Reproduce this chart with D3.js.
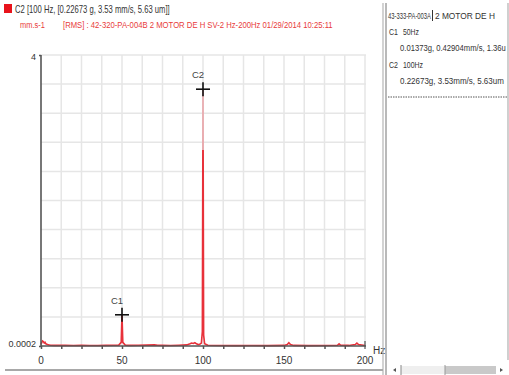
<!DOCTYPE html>
<html>
<head>
<meta charset="utf-8">
<script src="https://cdn.jsdelivr.net/npm/d3@7"></script>
<style>
  html, body { margin: 0; padding: 0; background: #fff; }
  svg { display: block; }
  text { font-family: "Liberation Sans Narrow", "Liberation Sans", Arial, sans-serif; }
</style>
</head>
<body>
<svg id="chart" width="509" height="375"></svg>
<script>
// Spectrum samples (Hz, mm/s RMS)
const freqs = [0, 0.5, 1, 1.5, 2, 2.5, 3, 4, 5, 6, 8, 10, 15, 20, 25, 30, 35, 40, 45, 48,
  49.5, 50, 50.5, 52, 55, 60, 65, 70, 72, 75, 80, 85, 90, 92, 93, 94, 95, 96, 97, 98,
  99, 99.6, 100, 100.4, 101, 103, 110, 120, 130, 140, 150, 152, 153, 154, 156, 165, 175,
  183, 184, 185, 190, 194, 195, 196, 200];
const amps = [0.02, 0.05, 0.07, 0.06, 0.04, 0.05, 0.03, 0.02, 0.015, 0.01, 0.008, 0.01, 0.008, 0.006, 0.01, 0.007, 0.006, 0.008, 0.01, 0.012,
  0.05, 0.429, 0.05, 0.012, 0.008, 0.01, 0.012, 0.015, 0.01, 0.008, 0.006, 0.01, 0.015, 0.03, 0.04, 0.035, 0.045, 0.03, 0.02, 0.025,
  0.04, 0.2, 3.53, 0.15, 0.03, 0.01, 0.006, 0.005, 0.006, 0.005, 0.008, 0.02, 0.045, 0.02, 0.008, 0.005, 0.006,
  0.01, 0.03, 0.01, 0.008, 0.02, 0.04, 0.02, 0.008];

// Cursors
const cursorNames = ["C1", "C2"];
const cursorFreqs = [50, 100];
const cursorAmps = [0.429, 3.53];

// Axis ticks and grid
const xTickLabels = [0, 50, 100, 150, 200];
const xGridFreqs = [12.5, 25, 37.5, 50, 62.5, 75, 87.5, 100, 112.5, 125, 137.5, 150, 162.5, 175, 187.5, 200];
const xMinorTicks = [0, 12.5, 25, 37.5, 50, 62.5, 75, 87.5, 100, 112.5, 125, 137.5, 150, 162.5, 175, 187.5];
const yGridValues = [0.4, 0.8, 1.2, 1.6, 2.0, 2.4, 2.8, 3.2, 3.6, 4.0];
const yTickLabels = ["0.0002", "4"];
const yTickValues = [0.0002, 4];

// Header and side panel texts
const headerLine = "C2 [100 Hz, [0.22673 g, 3.53 mm/s, 5.63 um]]";
const unitLabel = "mm.s-1";
const titleLine = "[RMS] : 42-320-PA-004B 2 MOTOR DE H SV-2 Hz-200Hz 01/29/2014 10:25:11";
const panelTitleA = "43-333-PA-003A";
const panelTitleB = "2 MOTOR DE H";
const panelRows = [
  ["C1", "50Hz", "0.01373g, 0.42904mm/s, 1.36u"],
  ["C2", "100Hz", "0.22673g, 3.53mm/s, 5.63um"]
];

const svg = d3.select("#chart");

const x = d3.scaleLinear().domain([0, 200]).range([41, 365]);
const y = d3.scaleLinear().domain([0, 4]).range([346, 55]);

// Condensed text: drawn at a font size, then scaled horizontally to a target width
function narrowText(g, str, px, py, size, width, color) {
  const t = g.append("text").attr("x", 0).attr("y", 0).attr("font-size", size).attr("fill", color).text(str);
  const natural = t.node().getComputedTextLength();
  const k = natural > 0 ? width / natural : 1;
  t.attr("transform", `translate(${px},${py}) scale(${k},1)`);
  return t;
}

// Header
svg.append("rect").attr("x", 4).attr("y", 4).attr("width", 8).attr("height", 9).attr("fill", "#e8131b");
narrowText(svg, headerLine, 15, 13, 10, 155, "#333");
narrowText(svg, unitLabel, 20, 28, 9, 25, "#e83a3a");
narrowText(svg, titleLine, 63, 28, 9.5, 270, "#e83a3a");

// Grid
const grid = svg.append("g").attr("stroke", "#e6e6e6").attr("stroke-width", 1.5);
grid.selectAll("line.v").data(xGridFreqs).join("line")
  .attr("x1", d => x(d)).attr("x2", d => x(d)).attr("y1", y(4)).attr("y2", y(0));
grid.selectAll("line.h").data(yGridValues).join("line")
  .attr("x1", x(0)).attr("x2", x(200) + 1).attr("y1", d => y(d)).attr("y2", d => y(d));

// Spectrum stroke: pale near the top of the tall peak, red below
const defs = svg.append("defs");
const grad = defs.append("linearGradient").attr("id", "specStroke")
  .attr("gradientUnits", "userSpaceOnUse")
  .attr("x1", 0).attr("x2", 0).attr("y1", y(4)).attr("y2", y(0));
const cut = (4 - 2.7) / 4;
grad.append("stop").attr("offset", 0).attr("stop-color", "#e9a8ac");
grad.append("stop").attr("offset", cut).attr("stop-color", "#e9a8ac");
grad.append("stop").attr("offset", cut).attr("stop-color", "#e8313a");
grad.append("stop").attr("offset", 1).attr("stop-color", "#e8313a");

const pts = freqs.map((f, i) => [f, amps[i]]);
svg.append("path").datum(pts)
  .attr("fill", "none")
  .attr("stroke", "url(#specStroke)")
  .attr("stroke-width", 1.6)
  .attr("d", d3.line().x(d => x(d[0])).y(d => y(d[1])));

// Axes
const xAxis = d3.axisBottom(x).tickValues(xMinorTicks).tickSize(3).tickFormat("");
const xg = svg.append("g").attr("transform", `translate(0,${y(0)})`).call(xAxis);
xg.select(".domain").attr("stroke", "#555").attr("stroke-width", 1.6).attr("d", `M${x(0)},0H${x(200) + 1}`);
xg.selectAll(".tick line").attr("stroke", "#555").attr("stroke-width", 1.5);
svg.append("line").attr("x1", x(200)).attr("x2", x(200)).attr("y1", y(0) - 5).attr("y2", y(0) + 3)
  .attr("stroke", "#555").attr("stroke-width", 1.2);

svg.selectAll("text.xl").data(xTickLabels).join("text")
  .attr("x", d => x(d)).attr("y", 364).attr("text-anchor", "middle")
  .attr("font-size", 10).attr("fill", "#333").text(d => d);
svg.append("text").attr("x", 373).attr("y", 354).attr("font-size", 10).attr("fill", "#333").text("Hz");

const yAxis = d3.axisLeft(y).tickValues(yTickValues).tickSize(2).tickFormat((d, i) => yTickLabels[i]);
const yg = svg.append("g").attr("transform", `translate(${x(0)},0)`).call(yAxis);
yg.select(".domain").attr("stroke", "#555").attr("stroke-width", 1.6).attr("d", `M0,${y(4)}V${y(0)}`);
yg.selectAll(".tick line").attr("stroke", "#555").attr("stroke-width", 1.5);
yg.selectAll(".tick text").attr("font-size", 9).attr("fill", "#333").attr("x", -5)
  .attr("font-family", "'Liberation Sans Narrow', 'Liberation Sans', Arial, sans-serif")
  .attr("dy", (d, i) => i === 0 ? "0.1em" : "0.45em");

// Cursor crosses and labels
const cur = svg.append("g");
cursorNames.forEach((name, i) => {
  const cx = x(cursorFreqs[i]), cy = y(cursorAmps[i]);
  cur.append("line").attr("x1", cx - 7).attr("x2", cx + 7).attr("y1", cy).attr("y2", cy)
    .attr("stroke", "#111").attr("stroke-width", 1.6);
  cur.append("line").attr("x1", cx).attr("x2", cx).attr("y1", cy - 7).attr("y2", cy + 7)
    .attr("stroke", "#111").attr("stroke-width", 1.6);
  cur.append("text").attr("x", cx - 11).attr("y", cy - 11).attr("font-size", 9.5)
    .attr("fill", "#444").text(name);
});

// Side panel
const panel = svg.append("g");
panel.append("line").attr("x1", 383).attr("x2", 383).attr("y1", 3).attr("y2", 375).attr("stroke", "#b5b5b5").attr("stroke-width", 1.2);
panel.append("line").attr("x1", 386).attr("x2", 386).attr("y1", 3).attr("y2", 375).attr("stroke", "#8a8a8a").attr("stroke-width", 1.2);
panel.append("line").attr("x1", 508).attr("x2", 508).attr("y1", 3).attr("y2", 360).attr("stroke", "#b0b0b0").attr("stroke-width", 1.2);
narrowText(panel, panelTitleA, 388, 19, 9, 43, "#333");
panel.append("line").attr("x1", 432.5).attr("x2", 432.5).attr("y1", 10).attr("y2", 21).attr("stroke", "#333").attr("stroke-width", 1);
narrowText(panel, panelTitleB, 435, 19, 9, 60, "#333");
panelRows.forEach((r, i) => {
  const base = 35 + i * 33;
  narrowText(panel, r[0], 389, base, 9, 9, "#333");
  narrowText(panel, r[1], 403, base, 9, i === 0 ? 16 : 20, "#333");
  narrowText(panel, r[2], 400, base + 16, 9, i === 0 ? 106 : 104, "#333");
});
panel.append("line").attr("x1", 388).attr("x2", 507).attr("y1", 97).attr("y2", 97)
  .attr("stroke", "#555").attr("stroke-width", 1).attr("stroke-dasharray", "1.5,1");

// Bottom scroll strip
svg.append("line").attr("x1", 5).attr("x2", 383).attr("y1", 370).attr("y2", 370).attr("stroke", "#a8a8a8").attr("stroke-width", 2);
svg.append("rect").attr("x", 401).attr("y", 366).attr("width", 44).attr("height", 8).attr("fill", "#efefef");
svg.append("rect").attr("x", 445).attr("y", 366).attr("width", 51).attr("height", 8).attr("fill", "#c9c9c9");
svg.append("line").attr("x1", 401).attr("x2", 401).attr("y1", 365).attr("y2", 375).attr("stroke", "#888").attr("stroke-width", 1);
svg.append("line").attr("x1", 445).attr("x2", 445).attr("y1", 365).attr("y2", 375).attr("stroke", "#999").attr("stroke-width", 1);
svg.append("path").attr("d", "M393,370L396,368L396,372Z").attr("fill", "#555");
svg.append("path").attr("d", "M503,370L500,368L500,372Z").attr("fill", "#555");
</script>
</body>
</html>
